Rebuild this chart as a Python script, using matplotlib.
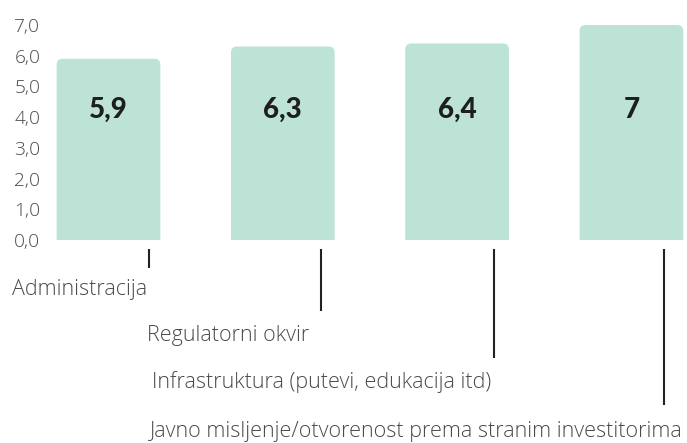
import matplotlib
matplotlib.use("Agg")
import matplotlib.pyplot as plt
from matplotlib.patches import FancyBboxPatch

categories = ["Administracija", "Regulatorni okvir",
              "Infrastruktura (putevi, edukacija itd)",
              "Javno misljenje/otvorenost prema stranim investitorima"]
values = [5.9, 6.3, 6.4, 7.0]
value_labels = ["5,9", "6,3", "6,4", "7"]
yticks = [0, 1, 2, 3, 4, 5, 6, 7]
ytick_labels = ["0,0", "1,0", "2,0", "3,0", "4,0", "5,0", "6,0", "7,0"]

W, H = 687, 443
fig = plt.figure(figsize=(W / 100, H / 100), dpi=100)

# axes in pixel layout
ax_left, ax_right, ax_top, ax_bottom = 50, 687, 25, 240
ax = fig.add_axes([ax_left / W, 1 - ax_bottom / H,
                   (ax_right - ax_left) / W, (ax_bottom - ax_top) / H])
step = 174.3
c0 = 108.5
ax.set_xlim((ax_left - c0) / step, (ax_right - c0) / step)
ax.set_ylim(0, 7)

bar_color = "#bde3d6"
xs = list(range(len(values)))
bars = ax.bar(xs, values, width=0.595, color=bar_color)
# replace with rounded-top bars
px_x = 1 / step
px_y = 7 / (ax_bottom - ax_top)
aspect = px_y / px_x
for b in bars:
    x0 = b.get_x()
    w = b.get_width()
    h = b.get_height()
    p = FancyBboxPatch((x0, -0.5), w, h + 0.5,
                       boxstyle=f"round,pad=0,rounding_size={6 * px_x}",
                       mutation_aspect=aspect, facecolor=bar_color,
                       edgecolor="none", clip_on=True)
    ax.add_patch(p)
    b.set_visible(False)

for x, v, lab in zip(xs, values, value_labels):
    ax.text(x, (ax_bottom - 110) * px_y, lab, ha="center", va="center",
            fontsize=20, fontweight="black", family="Lato", color="#1e1e1e")

ax.set_yticks(yticks)
ax.set_yticklabels(ytick_labels, family="Open Sans", fontweight="light",
                   fontsize=13.8, color="#4a4a4a")
ax.set_xticks([])
ax.tick_params(axis="y", length=0, pad=7)
for s in ax.spines.values():
    s.set_visible(False)

# leader lines
line_offsets = [0.232, 0.219, 0.211, 0.187]
line_ends_px = [268, 311, 358, 405]
for x, off, endp in zip(xs, line_offsets, line_ends_px):
    y0 = (ax_bottom - 249) * px_y
    y1 = (ax_bottom - endp) * px_y
    ax.plot([x + off, x + off], [y0, y1], color="#222222", lw=1.5,
            clip_on=False, solid_capstyle="butt")

label_left_px = [12, 147, 152, 150]
label_y_px = [290, 335, 382, 431]
for lab, lx, ly in zip(categories, label_left_px, label_y_px):
    fig.text(lx / W, 1 - ly / H, lab, ha="left", va="center",
             family="Open Sans", fontweight="light", fontsize=15.5,
             color="#4a4a4a")

fig.savefig("out.png", dpi=100)
